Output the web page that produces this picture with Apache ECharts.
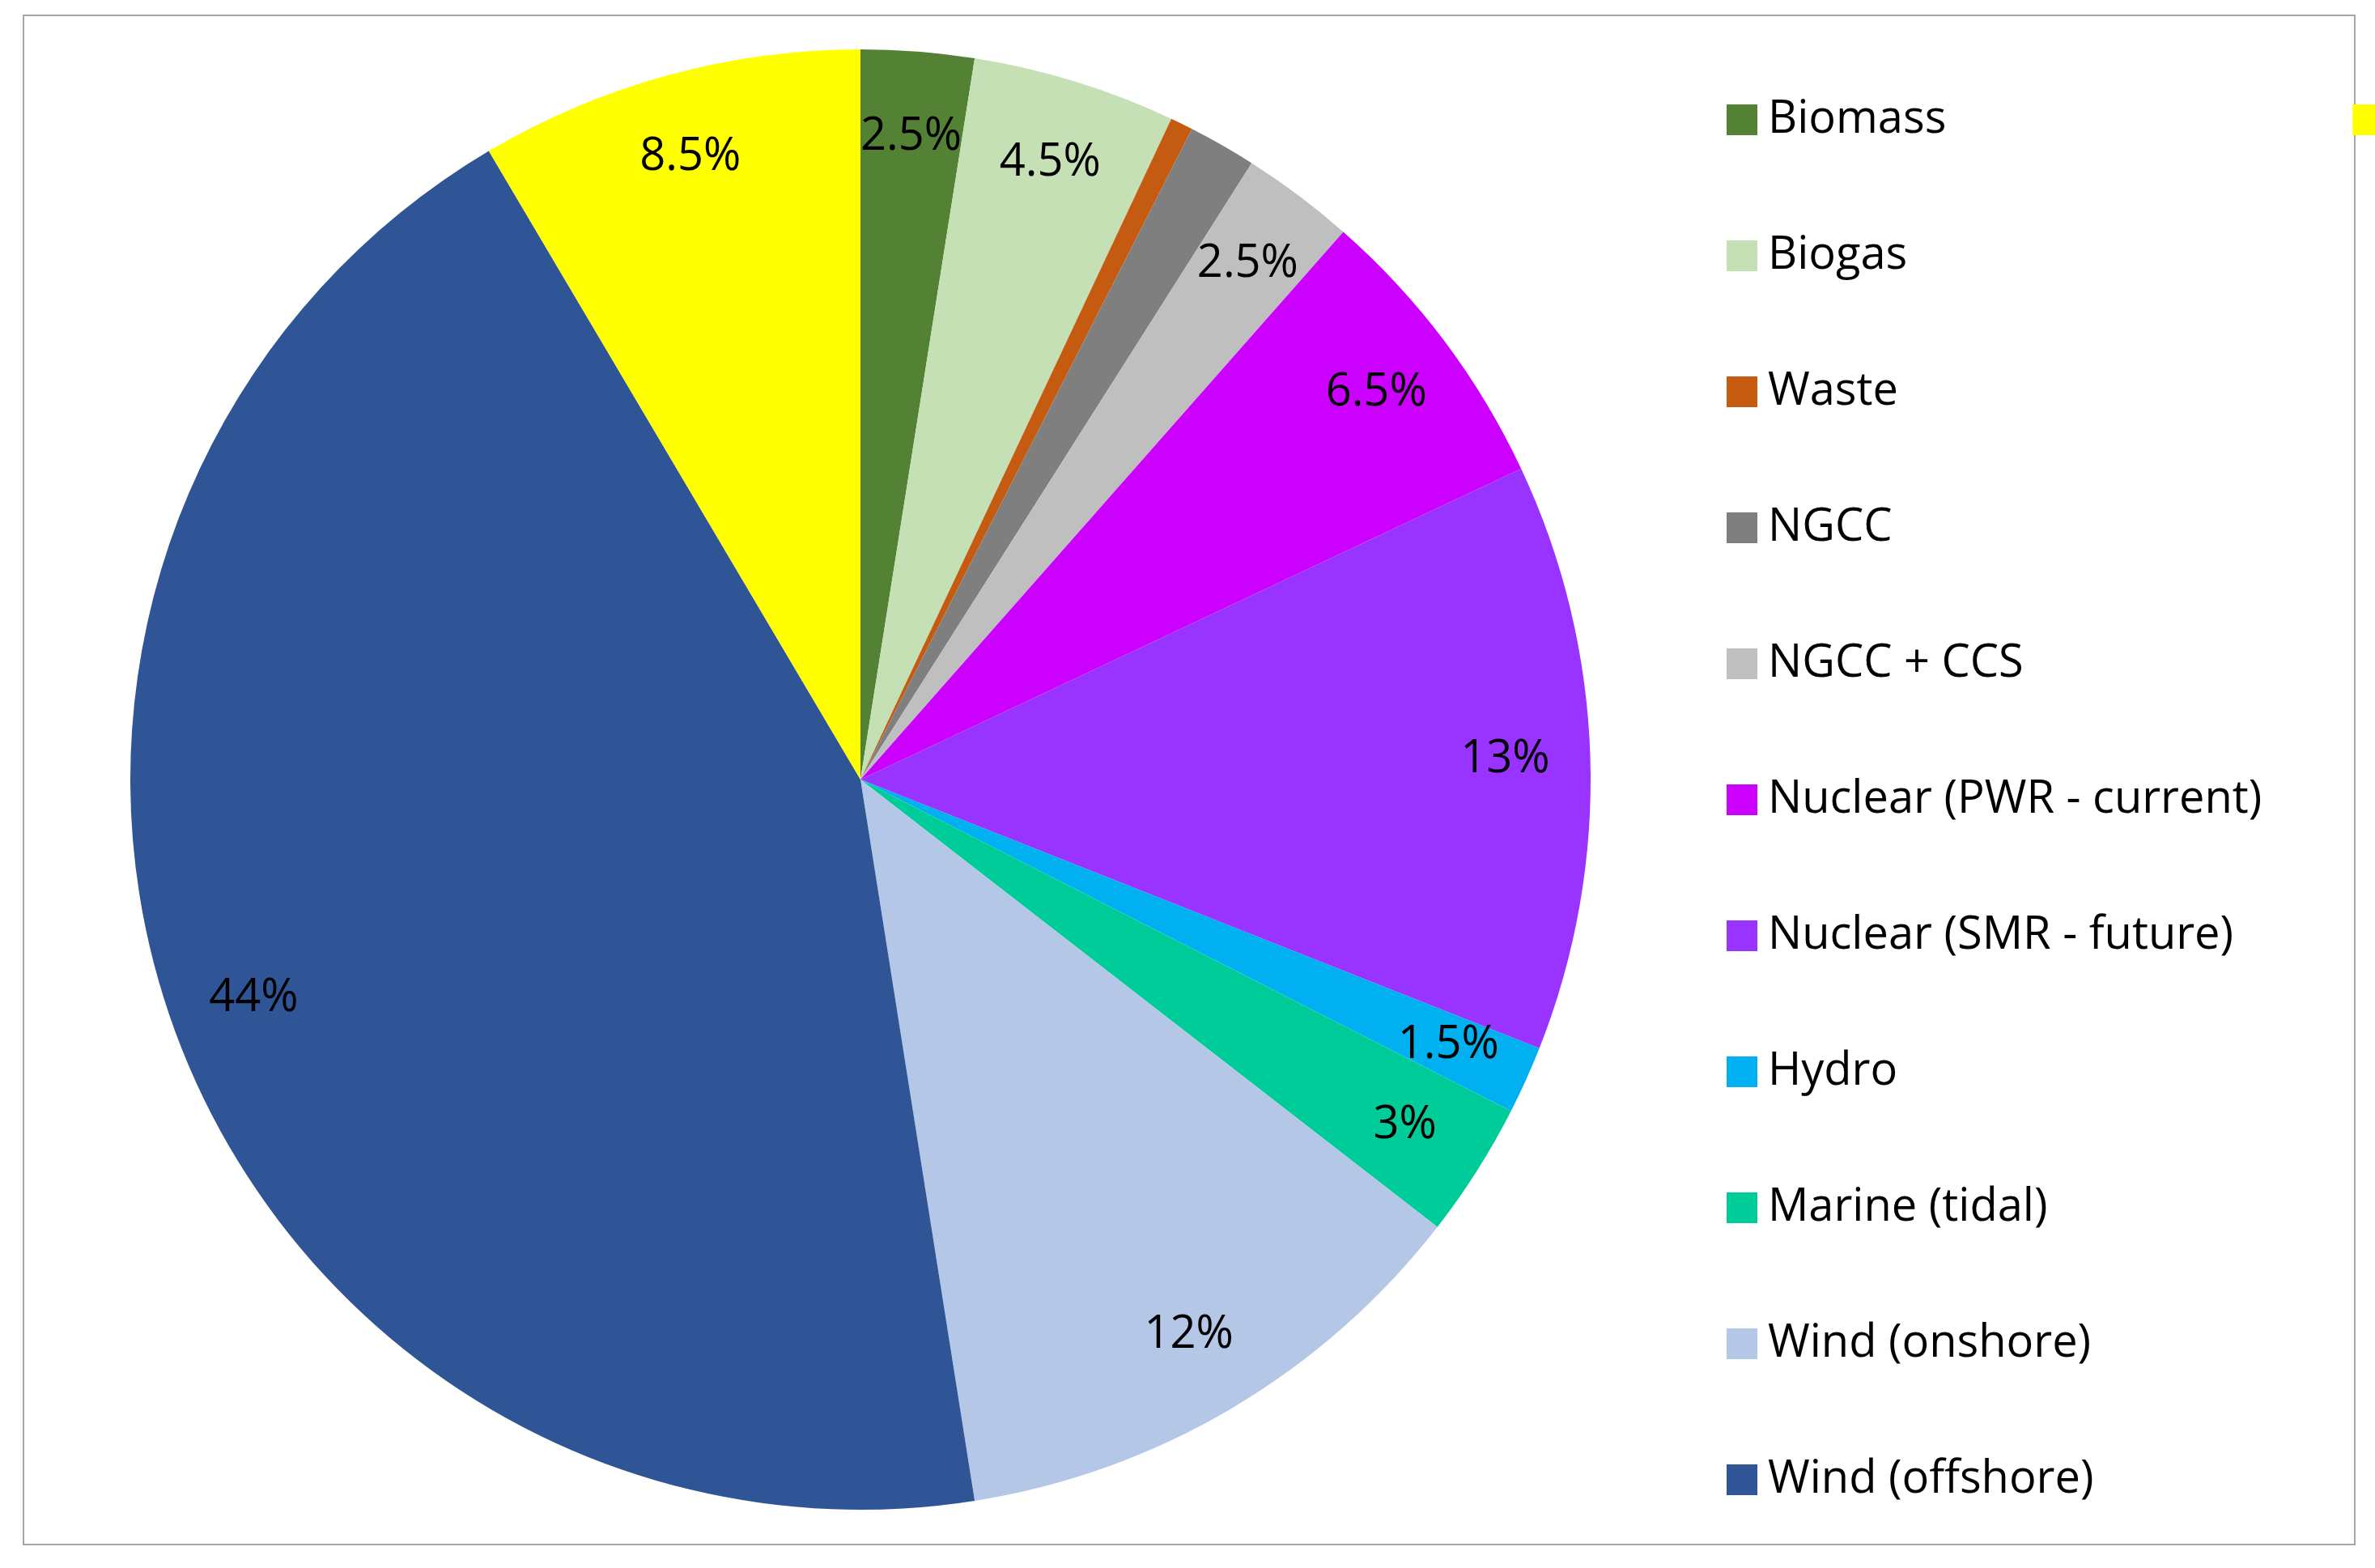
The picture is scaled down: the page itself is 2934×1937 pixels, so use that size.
<!DOCTYPE html>
<html><head><meta charset="utf-8">
<script src="https://cdn.jsdelivr.net/npm/echarts@6/dist/echarts.min.js"></script>
<style>html,body{margin:0;padding:0;background:#fff}#c{width:2934px;height:1937px}</style>
</head><body><div id="c"></div>
<script>
const categories = ["Biomass", "Biogas", "Waste", "NGCC", "NGCC + CCS", "Nuclear (PWR - current)",
    "Nuclear (SMR - future)", "Hydro", "Marine (tidal)", "Wind (onshore)", "Wind (offshore)", "Photovoltaic"];
const shares = [2.5, 4.5, 0.5, 1.5, 2.5, 6.5, 13, 1.5, 3, 12, 44, 8.5];
const labels = ["2.5%", "4.5%", "0.5%", "1.5%", "2.5%", "6.5%", "13%", "1.5%", "3%", "12%", "44%", "8.5%"];
const colors = ["#548235", "#c5e0b4", "#c55a11", "#7f7f7f", "#bfbfbf", "#cc00ff",
    "#9933ff", "#00b0f0", "#00cc99", "#b4c7e7", "#2f5597", "#ffff00"];

const font = "'Open Sans', 'Noto Sans', sans-serif";
const center = [1063, 963];
const R = 902;
const data = categories.map((name, i) => ({ name, value: shares[i], itemStyle: { color: colors[i] } }));

const chart = echarts.init(document.getElementById("c"));
chart.setOption({
    backgroundColor: "#fff",
    animation: false,
    graphic: [{ type: "rect", shape: { x: 29, y: 19, width: 2880, height: 1889 },
        style: { fill: "none", stroke: "#a6a6a6", lineWidth: 2 } }],
    legend: {
        orient: "vertical", left: 2128, top: 115, itemWidth: 38, itemHeight: 38, itemGap: 112,
        icon: "rect", data: categories,
        textStyle: { fontFamily: font, fontSize: 56, color: "#000", padding: [0, 0, 0, 8] }
    },
    series: [
        { type: "pie", center, radius: [0, R], startAngle: 90, clockwise: true,
          label: { show: false }, labelLine: { show: false }, data, silent: true },
        { type: "pie", center, radius: [R * 0.76, R], startAngle: 90, clockwise: true,
          silent: true, legendHoverLink: false,
          itemStyle: { color: "transparent" },
          label: { show: true, position: "inside", fontFamily: font, fontSize: 56, color: "#000",
              formatter: (p) => labels[p.dataIndex] },
          labelLine: { show: false },
          data: categories.map((name, i) => ({ name: "_" + name, value: shares[i] })) }
    ]
});
</script></body></html>
